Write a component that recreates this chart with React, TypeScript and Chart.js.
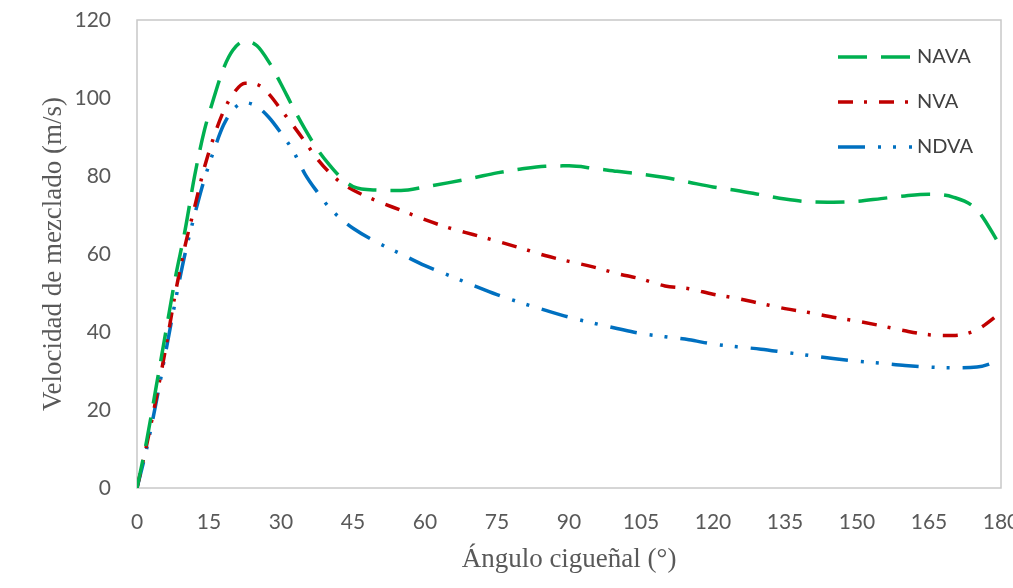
import React, { useEffect, useRef } from "react";
import { Chart, registerables } from "chart.js";

Chart.register(...registerables);

const angles = [0, 2, 4, 6, 8, 10, 12, 14, 16, 18, 20, 22.5, 25, 27.5, 30, 32.5, 35, 37.5, 40, 42.5, 45, 50, 55, 60, 65, 70, 75, 80, 85, 90, 95, 100, 105, 110, 115, 120, 125, 130, 135, 140, 145, 150, 155, 160, 165, 170, 175, 180];

const nava = [0, 12, 26, 40, 54, 66, 80, 91.5, 100, 107.5, 112.3, 114.6, 113.4, 109.2, 103.6, 97.6, 92, 87, 83, 79.6, 77.3, 76.4, 76.3, 77.2, 78.3, 79.5, 80.8, 81.8, 82.5, 82.6, 82, 81.2, 80.5, 79.6, 78.4, 77.2, 76.3, 75.2, 74.1, 73.4, 73.3, 73.5, 74.2, 74.9, 75.3, 74.6, 71.3, 61.8];

const nva = [0, 11, 23, 36, 50, 62, 72, 82, 90, 96.5, 101, 103.8, 103.5, 101, 97, 93, 88.8, 84.5, 81, 78.3, 76.4, 73.6, 71.2, 68.8, 66.7, 65, 63.3, 61.5, 59.6, 58.1, 56.7, 55, 53.6, 51.8, 51.1, 49.7, 48.6, 47.3, 46, 45, 43.8, 42.8, 41.6, 40.3, 39.3, 39.1, 40.6, 45];

const ndva = [0, 10, 22, 35, 48, 60, 70, 79, 86.5, 93, 97, 98.8, 97.8, 95, 91, 86.5, 80.5, 76, 72, 69, 66.6, 63, 60, 57, 54.5, 52, 49.6, 47.5, 45.6, 43.8, 42.3, 40.9, 39.6, 38.8, 38, 36.9, 36.2, 35.6, 34.8, 34, 33.2, 32.5, 32, 31.4, 31, 30.8, 31, 32.8];

const seriesNames = ["NAVA", "NVA", "NDVA"];
const seriesColors = ["#00b050", "#c00000", "#0070c0"];
const seriesDashes = [
  [29, 14],
  [15, 11, 3, 12],
  [27, 13, 3, 12, 3, 13],
];

const legendPlugin = {
  id: "customLegend",
  beforeDatasetsDraw(chart: any) {
    const { ctx, chartArea } = chart;
    ctx.save();
    ctx.strokeStyle = "#c8c8c8";
    ctx.lineWidth = 1.5;
    ctx.strokeRect(chartArea.left, chartArea.top, chartArea.right - chartArea.left, chartArea.bottom - chartArea.top);
    ctx.restore();
  },
  afterDatasetsDraw(chart: any) {
    const { ctx, chartArea } = chart;
    ctx.save();
    chart.data.datasets.forEach((ds: any, i: number) => {
      const y = chartArea.top + 37 + i * 45;
      const x0 = chartArea.right - 163;
      const x1 = x0 + 74;
      ctx.beginPath();
      ctx.setLineDash(ds.borderDash);
      ctx.strokeStyle = ds.borderColor;
      ctx.lineWidth = 3.5;
      ctx.moveTo(x0, y);
      ctx.lineTo(x1, y);
      ctx.stroke();
      ctx.setLineDash([]);
      ctx.fillStyle = "#404040";
      ctx.font = "20px Lato";
      ctx.textBaseline = "middle";
      ctx.textAlign = "left";
      ctx.fillText(ds.label, x1 + 5, y);
    });
    ctx.restore();
  },
};

export default function App() {
  const ref = useRef<HTMLCanvasElement>(null);
  useEffect(() => {
    document.body.style.margin = "0";
    const datasets = [nava, nva, ndva].map((vals, i) => ({
      label: seriesNames[i],
      data: angles.map((a, j) => ({ x: a, y: vals[j] })),
      borderColor: seriesColors[i],
      backgroundColor: seriesColors[i],
      borderDash: seriesDashes[i],
      borderWidth: 3.5,
      pointRadius: 0,
      cubicInterpolationMode: "monotone" as const,
      fill: false,
    }));
    const chart = new Chart(ref.current!, {
      type: "line",
      data: { datasets },
      plugins: [legendPlugin],
      options: {
        animation: false,
        responsive: false,
        layout: { padding: { left: 0, right: 12, top: 20, bottom: 0 } },
        plugins: { legend: { display: false }, tooltip: { enabled: false } },
        scales: {
          x: {
            type: "linear",
            min: 0,
            max: 180,
            grid: { display: false, drawTicks: false },
            border: { display: false },
            ticks: {
              stepSize: 15,
              padding: 22,
              color: "#595959",
              font: { family: "Lato", size: 21 },
              maxRotation: 0,
            },
            title: {
              display: true,
              text: "Ángulo cigueñal (°)",
              color: "#595959",
              font: { family: "Liberation Serif", size: 27 },
              padding: { top: 0, bottom: 12 },
            },
            afterFit(scale: any) {
              scale.height = 100;
              scale.paddingLeft = 0;
              scale.paddingRight = 0;
            },
          },
          y: {
            min: 0,
            max: 120,
            grid: { display: false, drawTicks: false },
            border: { display: false },
            ticks: {
              stepSize: 20,
              padding: 26,
              color: "#595959",
              font: { family: "Lato", size: 21 },
            },
            title: {
              display: true,
              text: "Velocidad de mezclado (m/s)",
              color: "#595959",
              font: { family: "Liberation Serif", size: 27 },
              padding: { top: 38, bottom: 0 },
            },
            afterFit(scale: any) {
              scale.width = 137;
              scale.paddingTop = 0;
              scale.paddingBottom = 0;
            },
          },
        },
      },
    });
    return () => chart.destroy();
  }, []);
  return <canvas ref={ref} width={1013} height={588} style={{ display: "block" }} />;
}
